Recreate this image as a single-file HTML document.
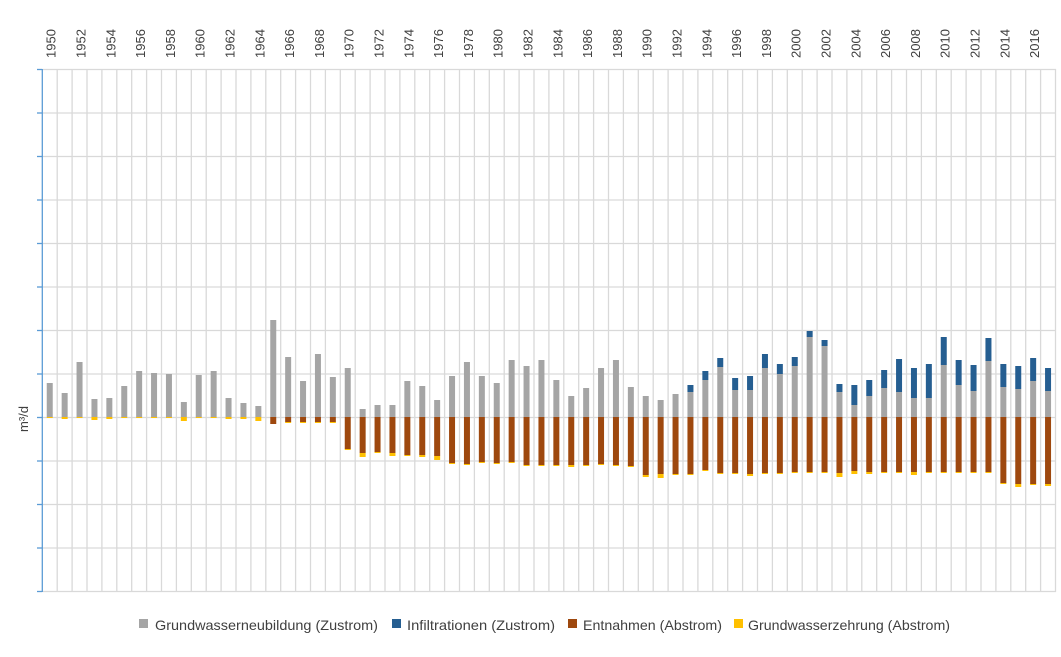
<!DOCTYPE html>
<html><head><meta charset="utf-8"><style>
html,body{margin:0;padding:0;background:#fff;}
svg{display:block;font-family:"Liberation Sans",Arial,sans-serif;}
.g{fill:#a5a5a5}.b{fill:#255e91}.r{fill:#9e480e}.y{fill:#ffc000}
.yr{font-size:13px;fill:#404040}
</style></head><body>
<svg width="1061" height="657" viewBox="0 0 1061 657" xmlns="http://www.w3.org/2000/svg">
<g stroke="#d9d9d9" stroke-width="1.3">
<line x1="42" y1="69.5" x2="1056" y2="69.5"/><line x1="42" y1="113" x2="1056" y2="113"/><line x1="42" y1="156.5" x2="1056" y2="156.5"/><line x1="42" y1="200" x2="1056" y2="200"/><line x1="42" y1="243.5" x2="1056" y2="243.5"/><line x1="42" y1="287" x2="1056" y2="287"/><line x1="42" y1="330.5" x2="1056" y2="330.5"/><line x1="42" y1="374" x2="1056" y2="374"/><line x1="42" y1="417.5" x2="1056" y2="417.5"/><line x1="42" y1="461" x2="1056" y2="461"/><line x1="42" y1="504.5" x2="1056" y2="504.5"/><line x1="42" y1="548" x2="1056" y2="548"/><line x1="42" y1="591.5" x2="1056" y2="591.5"/>
<line x1="57.2" y1="69" x2="57.2" y2="592"/><line x1="72.1" y1="69" x2="72.1" y2="592"/><line x1="87" y1="69" x2="87" y2="592"/><line x1="101.9" y1="69" x2="101.9" y2="592"/><line x1="116.8" y1="69" x2="116.8" y2="592"/><line x1="131.7" y1="69" x2="131.7" y2="592"/><line x1="146.6" y1="69" x2="146.6" y2="592"/><line x1="161.5" y1="69" x2="161.5" y2="592"/><line x1="176.4" y1="69" x2="176.4" y2="592"/><line x1="191.3" y1="69" x2="191.3" y2="592"/><line x1="206.2" y1="69" x2="206.2" y2="592"/><line x1="221.1" y1="69" x2="221.1" y2="592"/><line x1="236" y1="69" x2="236" y2="592"/><line x1="250.9" y1="69" x2="250.9" y2="592"/><line x1="265.8" y1="69" x2="265.8" y2="592"/><line x1="280.7" y1="69" x2="280.7" y2="592"/><line x1="295.6" y1="69" x2="295.6" y2="592"/><line x1="310.5" y1="69" x2="310.5" y2="592"/><line x1="325.4" y1="69" x2="325.4" y2="592"/><line x1="340.3" y1="69" x2="340.3" y2="592"/><line x1="355.2" y1="69" x2="355.2" y2="592"/><line x1="370.1" y1="69" x2="370.1" y2="592"/><line x1="385" y1="69" x2="385" y2="592"/><line x1="399.9" y1="69" x2="399.9" y2="592"/><line x1="414.8" y1="69" x2="414.8" y2="592"/><line x1="429.7" y1="69" x2="429.7" y2="592"/><line x1="444.6" y1="69" x2="444.6" y2="592"/><line x1="459.5" y1="69" x2="459.5" y2="592"/><line x1="474.4" y1="69" x2="474.4" y2="592"/><line x1="489.3" y1="69" x2="489.3" y2="592"/><line x1="504.2" y1="69" x2="504.2" y2="592"/><line x1="519.1" y1="69" x2="519.1" y2="592"/><line x1="534" y1="69" x2="534" y2="592"/><line x1="548.9" y1="69" x2="548.9" y2="592"/><line x1="563.8" y1="69" x2="563.8" y2="592"/><line x1="578.7" y1="69" x2="578.7" y2="592"/><line x1="593.6" y1="69" x2="593.6" y2="592"/><line x1="608.5" y1="69" x2="608.5" y2="592"/><line x1="623.4" y1="69" x2="623.4" y2="592"/><line x1="638.3" y1="69" x2="638.3" y2="592"/><line x1="653.2" y1="69" x2="653.2" y2="592"/><line x1="668.1" y1="69" x2="668.1" y2="592"/><line x1="683" y1="69" x2="683" y2="592"/><line x1="697.9" y1="69" x2="697.9" y2="592"/><line x1="712.8" y1="69" x2="712.8" y2="592"/><line x1="727.7" y1="69" x2="727.7" y2="592"/><line x1="742.6" y1="69" x2="742.6" y2="592"/><line x1="757.5" y1="69" x2="757.5" y2="592"/><line x1="772.4" y1="69" x2="772.4" y2="592"/><line x1="787.3" y1="69" x2="787.3" y2="592"/><line x1="802.2" y1="69" x2="802.2" y2="592"/><line x1="817.1" y1="69" x2="817.1" y2="592"/><line x1="832" y1="69" x2="832" y2="592"/><line x1="846.9" y1="69" x2="846.9" y2="592"/><line x1="861.8" y1="69" x2="861.8" y2="592"/><line x1="876.7" y1="69" x2="876.7" y2="592"/><line x1="891.6" y1="69" x2="891.6" y2="592"/><line x1="906.5" y1="69" x2="906.5" y2="592"/><line x1="921.4" y1="69" x2="921.4" y2="592"/><line x1="936.3" y1="69" x2="936.3" y2="592"/><line x1="951.2" y1="69" x2="951.2" y2="592"/><line x1="966.1" y1="69" x2="966.1" y2="592"/><line x1="981" y1="69" x2="981" y2="592"/><line x1="995.9" y1="69" x2="995.9" y2="592"/><line x1="1010.8" y1="69" x2="1010.8" y2="592"/><line x1="1025.7" y1="69" x2="1025.7" y2="592"/><line x1="1040.6" y1="69" x2="1040.6" y2="592"/><line x1="1055.5" y1="69" x2="1055.5" y2="592"/>
</g>
<g stroke="#5b9bd5" stroke-width="1.3">
<line x1="42.3" y1="69" x2="42.3" y2="592"/>
<line x1="37" y1="69.5" x2="42" y2="69.5"/><line x1="37" y1="113" x2="42" y2="113"/><line x1="37" y1="156.5" x2="42" y2="156.5"/><line x1="37" y1="200" x2="42" y2="200"/><line x1="37" y1="243.5" x2="42" y2="243.5"/><line x1="37" y1="287" x2="42" y2="287"/><line x1="37" y1="330.5" x2="42" y2="330.5"/><line x1="37" y1="374" x2="42" y2="374"/><line x1="37" y1="417.5" x2="42" y2="417.5"/><line x1="37" y1="461" x2="42" y2="461"/><line x1="37" y1="504.5" x2="42" y2="504.5"/><line x1="37" y1="548" x2="42" y2="548"/><line x1="37" y1="591.5" x2="42" y2="591.5"/>
</g>
<g>
<rect class="g" x="46.75" y="383" width="6" height="34"/><rect class="y" x="46.75" y="417" width="6" height="1"/>
<rect class="g" x="61.65" y="393" width="6" height="24"/><rect class="y" x="61.65" y="417" width="6" height="2"/>
<rect class="g" x="76.55" y="362" width="6" height="55"/><rect class="y" x="76.55" y="417" width="6" height="1"/>
<rect class="g" x="91.45" y="399" width="6" height="18"/><rect class="y" x="91.45" y="417" width="6" height="3"/>
<rect class="g" x="106.35" y="398" width="6" height="19"/><rect class="y" x="106.35" y="417" width="6" height="2"/>
<rect class="g" x="121.25" y="386" width="6" height="31"/><rect class="y" x="121.25" y="417" width="6" height="1"/>
<rect class="g" x="136.15" y="371" width="6" height="46"/><rect class="y" x="136.15" y="417" width="6" height="1"/>
<rect class="g" x="151.05" y="373" width="6" height="44"/><rect class="y" x="151.05" y="417" width="6" height="1"/>
<rect class="g" x="165.95" y="374" width="6" height="43"/><rect class="y" x="165.95" y="417" width="6" height="1"/>
<rect class="g" x="180.85" y="402" width="6" height="15"/><rect class="y" x="180.85" y="417" width="6" height="4"/>
<rect class="g" x="195.75" y="375" width="6" height="42"/><rect class="y" x="195.75" y="417" width="6" height="1"/>
<rect class="g" x="210.65" y="371" width="6" height="46"/><rect class="y" x="210.65" y="417" width="6" height="1"/>
<rect class="g" x="225.55" y="398" width="6" height="19"/><rect class="y" x="225.55" y="417" width="6" height="2"/>
<rect class="g" x="240.45" y="403" width="6" height="14"/><rect class="y" x="240.45" y="417" width="6" height="2"/>
<rect class="g" x="255.35" y="406" width="6" height="11"/><rect class="y" x="255.35" y="417" width="6" height="4"/>
<rect class="g" x="270.25" y="320" width="6" height="97"/><rect class="r" x="270.25" y="417" width="6" height="7"/>
<rect class="g" x="285.15" y="357" width="6" height="60"/><rect class="r" x="285.15" y="417" width="6" height="5"/><rect class="y" x="285.15" y="422" width="6" height="1"/>
<rect class="g" x="300.05" y="381" width="6" height="36"/><rect class="r" x="300.05" y="417" width="6" height="5"/><rect class="y" x="300.05" y="422" width="6" height="1"/>
<rect class="g" x="314.95" y="354" width="6" height="63"/><rect class="r" x="314.95" y="417" width="6" height="5"/><rect class="y" x="314.95" y="422" width="6" height="1"/>
<rect class="g" x="329.85" y="377" width="6" height="40"/><rect class="r" x="329.85" y="417" width="6" height="5"/><rect class="y" x="329.85" y="422" width="6" height="1"/>
<rect class="g" x="344.75" y="368" width="6" height="49"/><rect class="r" x="344.75" y="417" width="6" height="32"/><rect class="y" x="344.75" y="449" width="6" height="1"/>
<rect class="g" x="359.65" y="409" width="6" height="8"/><rect class="r" x="359.65" y="417" width="6" height="36"/><rect class="y" x="359.65" y="453" width="6" height="4"/>
<rect class="g" x="374.55" y="405" width="6" height="12"/><rect class="r" x="374.55" y="417" width="6" height="35"/><rect class="y" x="374.55" y="452" width="6" height="1"/>
<rect class="g" x="389.45" y="405" width="6" height="12"/><rect class="r" x="389.45" y="417" width="6" height="36"/><rect class="y" x="389.45" y="453" width="6" height="3"/>
<rect class="g" x="404.35" y="381" width="6" height="36"/><rect class="r" x="404.35" y="417" width="6" height="38"/><rect class="y" x="404.35" y="455" width="6" height="1"/>
<rect class="g" x="419.25" y="386" width="6" height="31"/><rect class="r" x="419.25" y="417" width="6" height="38"/><rect class="y" x="419.25" y="455" width="6" height="2"/>
<rect class="g" x="434.15" y="400" width="6" height="17"/><rect class="r" x="434.15" y="417" width="6" height="39"/><rect class="y" x="434.15" y="456" width="6" height="4"/>
<rect class="g" x="449.05" y="376" width="6" height="41"/><rect class="r" x="449.05" y="417" width="6" height="46"/><rect class="y" x="449.05" y="463" width="6" height="1"/>
<rect class="g" x="463.95" y="362" width="6" height="55"/><rect class="r" x="463.95" y="417" width="6" height="47"/><rect class="y" x="463.95" y="464" width="6" height="1"/>
<rect class="g" x="478.85" y="376" width="6" height="41"/><rect class="r" x="478.85" y="417" width="6" height="45"/><rect class="y" x="478.85" y="462" width="6" height="1"/>
<rect class="g" x="493.75" y="383" width="6" height="34"/><rect class="r" x="493.75" y="417" width="6" height="46"/><rect class="y" x="493.75" y="463" width="6" height="1"/>
<rect class="g" x="508.65" y="360" width="6" height="57"/><rect class="r" x="508.65" y="417" width="6" height="45"/><rect class="y" x="508.65" y="462" width="6" height="1"/>
<rect class="g" x="523.55" y="366" width="6" height="51"/><rect class="r" x="523.55" y="417" width="6" height="48"/><rect class="y" x="523.55" y="465" width="6" height="1"/>
<rect class="g" x="538.45" y="360" width="6" height="57"/><rect class="r" x="538.45" y="417" width="6" height="48"/><rect class="y" x="538.45" y="465" width="6" height="1"/>
<rect class="g" x="553.35" y="380" width="6" height="37"/><rect class="r" x="553.35" y="417" width="6" height="48"/><rect class="y" x="553.35" y="465" width="6" height="1"/>
<rect class="g" x="568.25" y="396" width="6" height="21"/><rect class="r" x="568.25" y="417" width="6" height="48"/><rect class="y" x="568.25" y="465" width="6" height="2"/>
<rect class="g" x="583.15" y="388" width="6" height="29"/><rect class="r" x="583.15" y="417" width="6" height="48"/><rect class="y" x="583.15" y="465" width="6" height="1"/>
<rect class="g" x="598.05" y="368" width="6" height="49"/><rect class="r" x="598.05" y="417" width="6" height="47"/><rect class="y" x="598.05" y="464" width="6" height="1"/>
<rect class="g" x="612.95" y="360" width="6" height="57"/><rect class="r" x="612.95" y="417" width="6" height="48"/><rect class="y" x="612.95" y="465" width="6" height="1"/>
<rect class="g" x="627.85" y="387" width="6" height="30"/><rect class="r" x="627.85" y="417" width="6" height="49"/><rect class="y" x="627.85" y="466" width="6" height="1"/>
<rect class="g" x="642.75" y="396" width="6" height="21"/><rect class="r" x="642.75" y="417" width="6" height="58"/><rect class="y" x="642.75" y="475" width="6" height="2"/>
<rect class="g" x="657.65" y="400" width="6" height="17"/><rect class="r" x="657.65" y="417" width="6" height="57"/><rect class="y" x="657.65" y="474" width="6" height="4"/>
<rect class="g" x="672.55" y="394" width="6" height="23"/><rect class="r" x="672.55" y="417" width="6" height="57"/><rect class="y" x="672.55" y="474" width="6" height="1"/>
<rect class="b" x="687.45" y="385" width="6" height="7"/><rect class="g" x="687.45" y="392" width="6" height="25"/><rect class="r" x="687.45" y="417" width="6" height="57"/><rect class="y" x="687.45" y="474" width="6" height="1"/>
<rect class="b" x="702.35" y="371" width="6" height="9"/><rect class="g" x="702.35" y="380" width="6" height="37"/><rect class="r" x="702.35" y="417" width="6" height="53"/><rect class="y" x="702.35" y="470" width="6" height="1"/>
<rect class="b" x="717.25" y="358" width="6" height="9"/><rect class="g" x="717.25" y="367" width="6" height="50"/><rect class="r" x="717.25" y="417" width="6" height="56"/><rect class="y" x="717.25" y="473" width="6" height="1"/>
<rect class="b" x="732.15" y="378" width="6" height="12"/><rect class="g" x="732.15" y="390" width="6" height="27"/><rect class="r" x="732.15" y="417" width="6" height="56"/><rect class="y" x="732.15" y="473" width="6" height="1"/>
<rect class="b" x="747.05" y="376" width="6" height="14"/><rect class="g" x="747.05" y="390" width="6" height="27"/><rect class="r" x="747.05" y="417" width="6" height="57"/><rect class="y" x="747.05" y="474" width="6" height="2"/>
<rect class="b" x="761.95" y="354" width="6" height="14"/><rect class="g" x="761.95" y="368" width="6" height="49"/><rect class="r" x="761.95" y="417" width="6" height="56"/><rect class="y" x="761.95" y="473" width="6" height="1"/>
<rect class="b" x="776.85" y="364" width="6" height="10"/><rect class="g" x="776.85" y="374" width="6" height="43"/><rect class="r" x="776.85" y="417" width="6" height="56"/><rect class="y" x="776.85" y="473" width="6" height="1"/>
<rect class="b" x="791.75" y="357" width="6" height="9"/><rect class="g" x="791.75" y="366" width="6" height="51"/><rect class="r" x="791.75" y="417" width="6" height="55"/><rect class="y" x="791.75" y="472" width="6" height="1"/>
<rect class="b" x="806.65" y="331" width="6" height="6"/><rect class="g" x="806.65" y="337" width="6" height="80"/><rect class="r" x="806.65" y="417" width="6" height="55"/><rect class="y" x="806.65" y="472" width="6" height="1"/>
<rect class="b" x="821.55" y="340" width="6" height="6"/><rect class="g" x="821.55" y="346" width="6" height="71"/><rect class="r" x="821.55" y="417" width="6" height="55"/><rect class="y" x="821.55" y="472" width="6" height="1"/>
<rect class="b" x="836.45" y="384" width="6" height="8"/><rect class="g" x="836.45" y="392" width="6" height="25"/><rect class="r" x="836.45" y="417" width="6" height="56"/><rect class="y" x="836.45" y="473" width="6" height="4"/>
<rect class="b" x="851.35" y="385" width="6" height="20"/><rect class="g" x="851.35" y="405" width="6" height="12"/><rect class="r" x="851.35" y="417" width="6" height="54"/><rect class="y" x="851.35" y="471" width="6" height="3"/>
<rect class="b" x="866.25" y="380" width="6" height="16"/><rect class="g" x="866.25" y="396" width="6" height="21"/><rect class="r" x="866.25" y="417" width="6" height="55"/><rect class="y" x="866.25" y="472" width="6" height="2"/>
<rect class="b" x="881.15" y="370" width="6" height="18"/><rect class="g" x="881.15" y="388" width="6" height="29"/><rect class="r" x="881.15" y="417" width="6" height="55"/><rect class="y" x="881.15" y="472" width="6" height="1"/>
<rect class="b" x="896.05" y="359" width="6" height="33"/><rect class="g" x="896.05" y="392" width="6" height="25"/><rect class="r" x="896.05" y="417" width="6" height="55"/><rect class="y" x="896.05" y="472" width="6" height="1"/>
<rect class="b" x="910.95" y="368" width="6" height="30"/><rect class="g" x="910.95" y="398" width="6" height="19"/><rect class="r" x="910.95" y="417" width="6" height="55"/><rect class="y" x="910.95" y="472" width="6" height="3"/>
<rect class="b" x="925.85" y="364" width="6" height="34"/><rect class="g" x="925.85" y="398" width="6" height="19"/><rect class="r" x="925.85" y="417" width="6" height="55"/><rect class="y" x="925.85" y="472" width="6" height="1"/>
<rect class="b" x="940.75" y="337" width="6" height="28"/><rect class="g" x="940.75" y="365" width="6" height="52"/><rect class="r" x="940.75" y="417" width="6" height="55"/><rect class="y" x="940.75" y="472" width="6" height="1"/>
<rect class="b" x="955.65" y="360" width="6" height="25"/><rect class="g" x="955.65" y="385" width="6" height="32"/><rect class="r" x="955.65" y="417" width="6" height="55"/><rect class="y" x="955.65" y="472" width="6" height="1"/>
<rect class="b" x="970.55" y="365" width="6" height="26"/><rect class="g" x="970.55" y="391" width="6" height="26"/><rect class="r" x="970.55" y="417" width="6" height="55"/><rect class="y" x="970.55" y="472" width="6" height="1"/>
<rect class="b" x="985.45" y="338" width="6" height="23"/><rect class="g" x="985.45" y="361" width="6" height="56"/><rect class="r" x="985.45" y="417" width="6" height="55"/><rect class="y" x="985.45" y="472" width="6" height="1"/>
<rect class="b" x="1000.35" y="364" width="6" height="23"/><rect class="g" x="1000.35" y="387" width="6" height="30"/><rect class="r" x="1000.35" y="417" width="6" height="66"/><rect class="y" x="1000.35" y="483" width="6" height="1"/>
<rect class="b" x="1015.25" y="366" width="6" height="23"/><rect class="g" x="1015.25" y="389" width="6" height="28"/><rect class="r" x="1015.25" y="417" width="6" height="67"/><rect class="y" x="1015.25" y="484" width="6" height="3"/>
<rect class="b" x="1030.15" y="358" width="6" height="23"/><rect class="g" x="1030.15" y="381" width="6" height="36"/><rect class="r" x="1030.15" y="417" width="6" height="67"/><rect class="y" x="1030.15" y="484" width="6" height="1"/>
<rect class="b" x="1045.05" y="368" width="6" height="23"/><rect class="g" x="1045.05" y="391" width="6" height="26"/><rect class="r" x="1045.05" y="417" width="6" height="67"/><rect class="y" x="1045.05" y="484" width="6" height="2"/>
</g>
<g class="yr">
<text transform="translate(55.7,58) rotate(-90)">1950</text>
<text transform="translate(85.5,58) rotate(-90)">1952</text>
<text transform="translate(115.3,58) rotate(-90)">1954</text>
<text transform="translate(145.1,58) rotate(-90)">1956</text>
<text transform="translate(174.9,58) rotate(-90)">1958</text>
<text transform="translate(204.7,58) rotate(-90)">1960</text>
<text transform="translate(234.5,58) rotate(-90)">1962</text>
<text transform="translate(264.3,58) rotate(-90)">1964</text>
<text transform="translate(294.1,58) rotate(-90)">1966</text>
<text transform="translate(323.9,58) rotate(-90)">1968</text>
<text transform="translate(353.7,58) rotate(-90)">1970</text>
<text transform="translate(383.5,58) rotate(-90)">1972</text>
<text transform="translate(413.3,58) rotate(-90)">1974</text>
<text transform="translate(443.1,58) rotate(-90)">1976</text>
<text transform="translate(472.9,58) rotate(-90)">1978</text>
<text transform="translate(502.7,58) rotate(-90)">1980</text>
<text transform="translate(532.5,58) rotate(-90)">1982</text>
<text transform="translate(562.3,58) rotate(-90)">1984</text>
<text transform="translate(592.1,58) rotate(-90)">1986</text>
<text transform="translate(621.9,58) rotate(-90)">1988</text>
<text transform="translate(651.7,58) rotate(-90)">1990</text>
<text transform="translate(681.5,58) rotate(-90)">1992</text>
<text transform="translate(711.3,58) rotate(-90)">1994</text>
<text transform="translate(741.1,58) rotate(-90)">1996</text>
<text transform="translate(770.9,58) rotate(-90)">1998</text>
<text transform="translate(800.7,58) rotate(-90)">2000</text>
<text transform="translate(830.5,58) rotate(-90)">2002</text>
<text transform="translate(860.3,58) rotate(-90)">2004</text>
<text transform="translate(890.1,58) rotate(-90)">2006</text>
<text transform="translate(919.9,58) rotate(-90)">2008</text>
<text transform="translate(949.7,58) rotate(-90)">2010</text>
<text transform="translate(979.5,58) rotate(-90)">2012</text>
<text transform="translate(1009.3,58) rotate(-90)">2014</text>
<text transform="translate(1039.1,58) rotate(-90)">2016</text>
</g>
<text transform="translate(28,432) rotate(-90)" font-size="13" fill="#404040">m³/d</text>
<g font-size="14" fill="#404040">
<rect class="g" x="139" y="619" width="9" height="9"/><text x="155" y="630" textLength="223" lengthAdjust="spacingAndGlyphs">Grundwasserneubildung (Zustrom)</text>
<rect class="b" x="392" y="619" width="9" height="9"/><text x="407" y="630" textLength="148" lengthAdjust="spacingAndGlyphs">Infiltrationen (Zustrom)</text>
<rect class="r" x="568" y="619" width="9" height="9"/><text x="583" y="630" textLength="139" lengthAdjust="spacingAndGlyphs">Entnahmen (Abstrom)</text>
<rect class="y" x="734" y="619" width="9" height="9"/><text x="748" y="630" textLength="202" lengthAdjust="spacingAndGlyphs">Grundwasserzehrung (Abstrom)</text>
</g>
</svg>
</body></html>
